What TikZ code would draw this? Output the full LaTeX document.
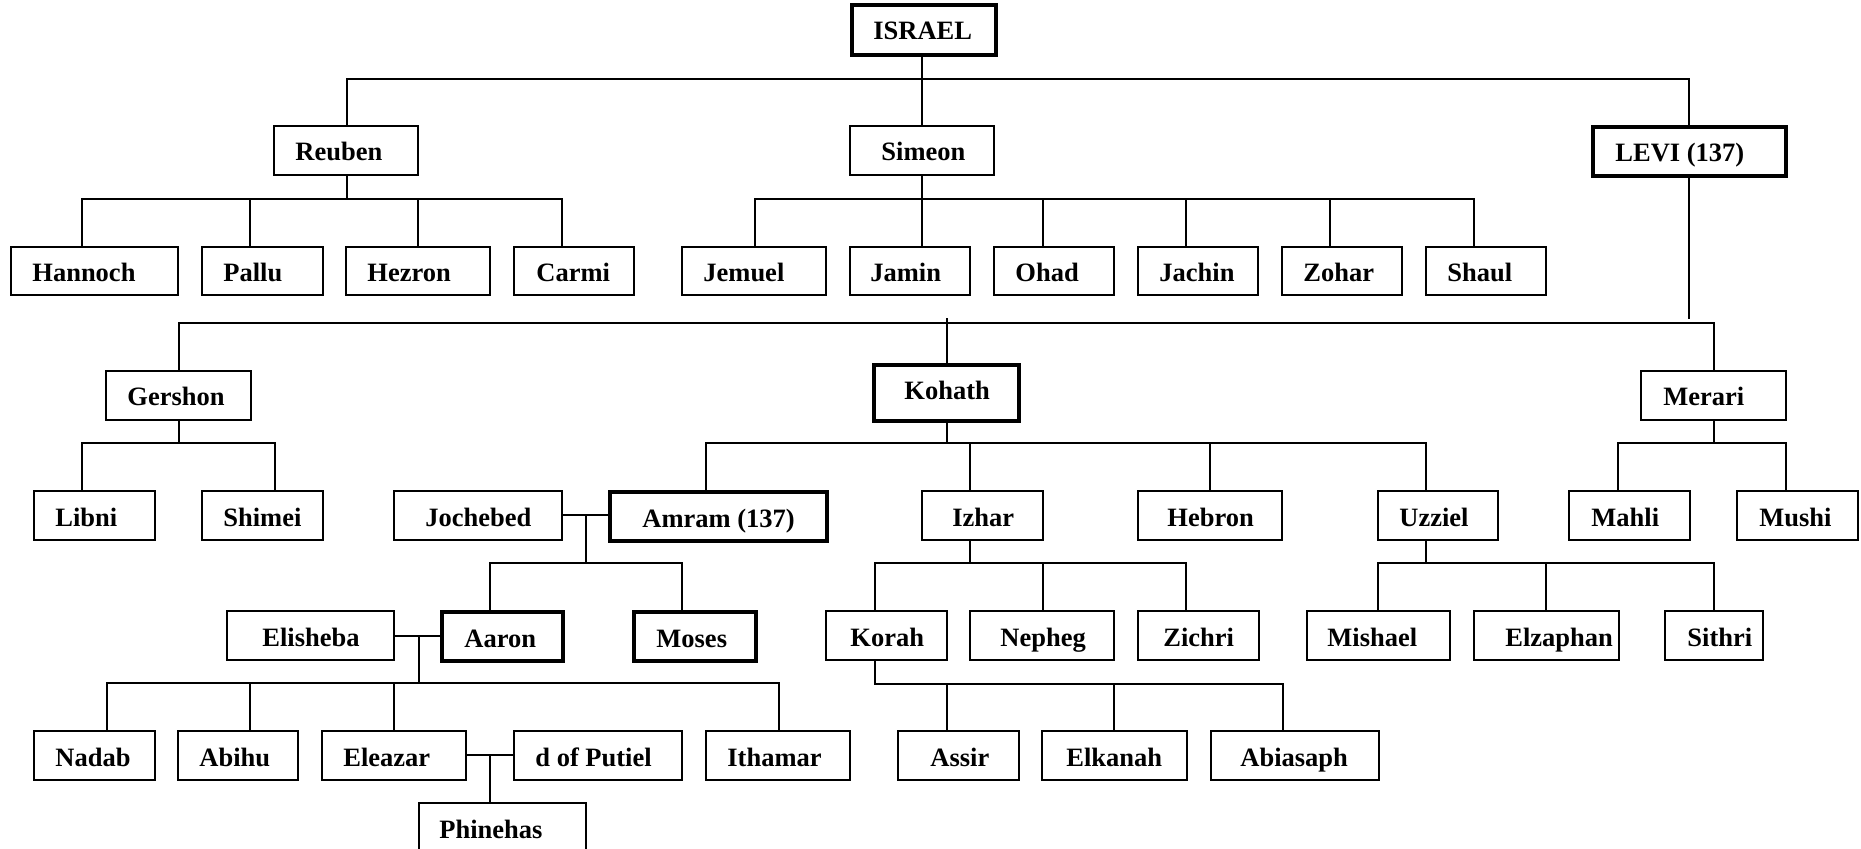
\documentclass[tikz,border=0pt]{standalone}
\usepackage{fontspec}
\setmainfont{Liberation Serif}
\usetikzlibrary{fit}
\tikzset{
  px/.style={x=0.5pt,y=-0.5pt},
  box/.style={draw=black,line width=0.7pt,inner sep=0pt,minimum size=0pt},
  thickbox/.style={draw=black,line width=1.7pt,inner sep=0pt,minimum size=0pt},
  txt/.style={inner sep=0pt,anchor=base west,font=\fontsize{13.25}{15}\selectfont\bfseries},
  link/.style={draw=black,line width=0.7pt,line cap=rect}
}
% style, name, x1, y1, x2, y2, pad, text
\newcommand\pbox[8]{%
  \node[#1,fit={(#3,#4) (#5,#6)}] (#2) {};
  \node[txt] (#2-t) at ({#3+#7},{#4+35}) {#8};
}
\begin{document}
\begin{tikzpicture}[px]
\useasboundingbox (0,0) rectangle (1861,849);
\fill[white] (0,0) rectangle (1861,849);
% boxes
\pbox{thickbox}{israel}{852}{5}{996}{55}{21}{ISRAEL}
\pbox{box}{reuben}{274}{126}{418}{175}{21}{Reuben}
\pbox{box}{simeon}{850}{126}{994}{175}{31}{Simeon}
\pbox{thickbox}{levi}{1593}{127}{1786}{176}{22}{LEVI (137)}
\pbox{box}{hannoch}{11}{247}{178}{295}{21}{Hannoch}
\pbox{box}{pallu}{202}{247}{323}{295}{21}{Pallu}
\pbox{box}{hezron}{346}{247}{490}{295}{21}{Hezron}
\pbox{box}{carmi}{514}{247}{634}{295}{22}{Carmi}
\pbox{box}{jemuel}{682}{247}{826}{295}{21}{Jemuel}
\pbox{box}{jamin}{850}{247}{970}{295}{20}{Jamin}
\pbox{box}{ohad}{994}{247}{1114}{295}{21}{Ohad}
\pbox{box}{jachin}{1138}{247}{1258}{295}{21}{Jachin}
\pbox{box}{zohar}{1282}{247}{1402}{295}{21}{Zohar}
\pbox{box}{shaul}{1426}{247}{1546}{295}{21}{Shaul}
\pbox{box}{gershon}{106}{371}{251}{420}{21}{Gershon}
\pbox{thickbox}{kohath}{874}{365}{1019}{421}{30}{Kohath}
\pbox{box}{merari}{1641}{371}{1786}{420}{22}{Merari}
\pbox{box}{libni}{34}{491}{155}{540}{21}{Libni}
\pbox{box}{shimei}{202}{491}{323}{540}{21}{Shimei}
\pbox{box}{jochebed}{394}{491}{562}{540}{31}{Jochebed}
\pbox{thickbox}{amram}{610}{492}{827}{541}{32}{Amram (137)}
\pbox{box}{izhar}{922}{491}{1043}{540}{30}{Izhar}
\pbox{box}{hebron}{1138}{491}{1282}{540}{29}{Hebron}
\pbox{box}{uzziel}{1378}{491}{1498}{540}{21}{Uzziel}
\pbox{box}{mahli}{1569}{491}{1690}{540}{22}{Mahli}
\pbox{box}{mushi}{1737}{491}{1858}{540}{22}{Mushi}
\pbox{box}{elisheba}{227}{611}{394}{660}{35}{Elisheba}
\pbox{thickbox}{aaron}{442}{612}{563}{661}{22}{Aaron}
\pbox{thickbox}{moses}{634}{612}{756}{661}{22}{Moses}
\pbox{box}{korah}{826}{611}{947}{660}{24}{Korah}
\pbox{box}{nepheg}{970}{611}{1114}{660}{30}{Nepheg}
\pbox{box}{zichri}{1138}{611}{1259}{660}{25}{Zichri}
\pbox{box}{mishael}{1307}{611}{1450}{660}{20}{Mishael}
\pbox{box}{elzaphan}{1474}{611}{1619}{660}{31}{Elzaphan}
\pbox{box}{sithri}{1665}{611}{1763}{660}{22}{Sithri}
\pbox{box}{nadab}{34}{731}{155}{780}{21}{Nadab}
\pbox{box}{abihu}{178}{731}{298}{780}{21}{Abihu}
\pbox{box}{eleazar}{322}{731}{466}{780}{21}{Eleazar}
\pbox{box}{putiel}{514}{731}{682}{780}{21}{d of Putiel}
\pbox{box}{ithamar}{706}{731}{850}{780}{21}{Ithamar}
\pbox{box}{assir}{898}{731}{1019}{780}{32}{Assir}
\pbox{box}{elkanah}{1042}{731}{1187}{780}{24}{Elkanah}
\pbox{box}{abiasaph}{1211}{731}{1379}{780}{29}{Abiasaph}
\pbox{box}{phinehas}{419}{803}{586}{862}{20}{Phinehas}
% plug points (where lines meet boxes)
\coordinate (israel-out) at (922,55);
\coordinate (reuben-in) at (347,126);   \coordinate (reuben-out) at (347,175);
\coordinate (simeon-in) at (922,126);   \coordinate (simeon-out) at (922,175);
\coordinate (levi-in) at (1689,127);    \coordinate (levi-out) at (1689,176);
\coordinate (levi-end) at (1689,318);
\coordinate (hannoch-in) at (82,247);   \coordinate (pallu-in) at (250,247);
\coordinate (hezron-in) at (418,247);   \coordinate (carmi-in) at (562,247);
\coordinate (jemuel-in) at (755,247);   \coordinate (jamin-in) at (922,247);
\coordinate (ohad-in) at (1043,247);    \coordinate (jachin-in) at (1186,247);
\coordinate (zohar-in) at (1330,247);   \coordinate (shaul-in) at (1474,247);
\coordinate (gershon-in) at (179,371);  \coordinate (gershon-out) at (179,420);
\coordinate (kohath-top) at (947,319);  \coordinate (kohath-in) at (947,365);
\coordinate (kohath-out) at (947,421);
\coordinate (merari-in) at (1714,371);  \coordinate (merari-out) at (1714,420);
\coordinate (libni-in) at (82,491);     \coordinate (shimei-in) at (275,491);
\coordinate (amram-in) at (706,492);    \coordinate (izhar-in) at (970,491);
\coordinate (hebron-in) at (1210,491);  \coordinate (uzziel-in) at (1426,491);
\coordinate (izhar-out) at (970,540);   \coordinate (uzziel-out) at (1426,540);
\coordinate (mahli-in) at (1618,491);   \coordinate (mushi-in) at (1786,491);
\coordinate (aaron-in) at (490,612);    \coordinate (moses-in) at (682,612);
\coordinate (korah-in) at (875,611);    \coordinate (korah-out) at (875,660);
\coordinate (nepheg-in) at (1043,611);  \coordinate (zichri-in) at (1186,611);
\coordinate (mishael-in) at (1378,611); \coordinate (elzaphan-in) at (1546,611);
\coordinate (sithri-in) at (1714,611);
\coordinate (nadab-in) at (107,731);    \coordinate (abihu-in) at (250,731);
\coordinate (eleazar-in) at (394,731);  \coordinate (ithamar-in) at (779,731);
\coordinate (assir-in) at (947,731);    \coordinate (elkanah-in) at (1114,731);
\coordinate (abiasaph-in) at (1283,731);
\coordinate (phinehas-in) at (490,803);
% bar heights
\coordinate (bar1) at (0,79);
\coordinate (barR) at (0,199);
\coordinate (barL) at (0,323);
\coordinate (barK) at (0,443);
\coordinate (barA) at (0,563);
\coordinate (barE) at (0,683);
\coordinate (barKo) at (0,684);
% ISRAEL
\draw[link] (israel-out) -- (simeon-in);
\draw[link] (reuben-in) |- (levi-in |- bar1) -- (levi-in);
% Reuben
\draw[link] (reuben-out) -- (reuben-out |- barR);
\draw[link] (hannoch-in) |- (carmi-in |- barR) -- (carmi-in);
\foreach \c in {pallu,hezron} \draw[link] (\c-in) -- (\c-in |- barR);
% Simeon
\draw[link] (simeon-out) -- (jamin-in);
\draw[link] (jemuel-in) |- (shaul-in |- barR) -- (shaul-in);
\foreach \c in {ohad,jachin,zohar} \draw[link] (\c-in) -- (\c-in |- barR);
% Levi
\draw[link] (levi-out) -- (levi-end);
\draw[link] (kohath-top) -- (kohath-in);
\draw[link] (gershon-in) |- (merari-in |- barL) -- (merari-in);
% Gershon
\draw[link] (gershon-out) -- (gershon-out |- barK);
\draw[link] (libni-in) |- (shimei-in |- barK) -- (shimei-in);
% Kohath
\draw[link] (kohath-out) -- (kohath-out |- barK);
\draw[link] (amram-in) |- (uzziel-in |- barK) -- (uzziel-in);
\foreach \c in {izhar,hebron} \draw[link] (\c-in) -- (\c-in |- barK);
% Merari
\draw[link] (merari-out) -- (merari-out |- barK);
\draw[link] (mahli-in) |- (mushi-in |- barK) -- (mushi-in);
% Jochebed & Amram
\coordinate (ja) at (586,515);
\draw[link] (jochebed.east |- ja) -- (amram.west |- ja);
\draw[link] (ja) -- (ja |- barA);
\draw[link] (aaron-in) |- (moses-in |- barA) -- (moses-in);
% Izhar
\draw[link] (izhar-out) -- (izhar-out |- barA);
\draw[link] (korah-in) |- (zichri-in |- barA) -- (zichri-in);
\draw[link] (nepheg-in) -- (nepheg-in |- barA);
% Uzziel
\draw[link] (uzziel-out) -- (uzziel-out |- barA);
\draw[link] (mishael-in) |- (sithri-in |- barA) -- (sithri-in);
\draw[link] (elzaphan-in) -- (elzaphan-in |- barA);
% Elisheba & Aaron
\coordinate (ea) at (419,636);
\draw[link] (elisheba.east |- ea) -- (aaron.west |- ea);
\draw[link] (ea) -- (ea |- barE);
\draw[link] (nadab-in) |- (ithamar-in |- barE) -- (ithamar-in);
\foreach \c in {abihu,eleazar} \draw[link] (\c-in) -- (\c-in |- barE);
% Korah
\draw[link] (korah-out) |- (abiasaph-in |- barKo) -- (abiasaph-in);
\foreach \c in {assir,elkanah} \draw[link] (\c-in) -- (\c-in |- barKo);
% Eleazar & d of Putiel
\coordinate (ep) at (490,755);
\draw[link] (eleazar.east |- ep) -- (putiel.west |- ep);
\draw[link] (ep) -- (phinehas-in);
\end{tikzpicture}
\end{document}
